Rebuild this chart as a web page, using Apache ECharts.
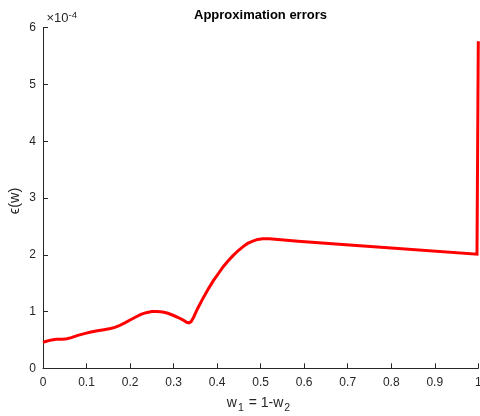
<!DOCTYPE html>
<html>
<head>
<meta charset="utf-8">
<script src="https://cdn.jsdelivr.net/npm/echarts@6/dist/echarts.min.js"></script>
<style>
  html, body { margin: 0; padding: 0; background: #ffffff; }
  #chart { width: 480px; height: 416px; }
</style>
</head>
<body>
<div id="chart"></div>
<script>
// Weight w1 (with w2 = 1 - w1)
const weights = [
  0.000, 0.010, 0.020, 0.030, 0.045, 0.055, 0.065, 0.080, 0.095, 0.110,
  0.125, 0.140, 0.155, 0.165, 0.175, 0.188, 0.200, 0.212, 0.225, 0.237,
  0.250, 0.262, 0.275, 0.287, 0.300, 0.312, 0.322, 0.330, 0.335, 0.340,
  0.346, 0.355, 0.368, 0.380, 0.391, 0.403, 0.414, 0.425, 0.436, 0.448,
  0.459, 0.470, 0.482, 0.493, 0.505, 0.520, 0.586, 0.704, 0.800, 0.997,
  1.000
];
// Approximation error, in units of 1e-4
const errors = [
  0.46, 0.48, 0.50, 0.51, 0.51, 0.52, 0.54, 0.58, 0.61, 0.64,
  0.66, 0.68, 0.70, 0.72, 0.75, 0.80, 0.85, 0.90, 0.95, 0.98,
  1.00, 1.00, 0.99, 0.97, 0.93, 0.89, 0.85, 0.81, 0.80, 0.82,
  0.90, 1.05, 1.24, 1.40, 1.54, 1.67, 1.79, 1.89, 1.98, 2.07,
  2.14, 2.20, 2.24, 2.27, 2.28, 2.28, 2.24, 2.17, 2.12, 2.01,
  5.76
];
const xTicks = { min: 0, max: 1, step: 0.1 };
const yTicks = { min: 0, max: 6, step: 1 };

const axisColor = '#262626';
const font = '"Liberation Sans", Arial, Helvetica, sans-serif';

const chart = echarts.init(document.getElementById('chart'));
chart.setOption({
  backgroundColor: '#ffffff',
  animation: false,
  grid: {
    left: 43, right: 1.7, top: 27.7, bottom: 47.7,
    containLabel: false, outerBoundsMode: 'none'
  },
  xAxis: {
    type: 'value',
    min: xTicks.min, max: xTicks.max, interval: xTicks.step,
    axisLine: { onZero: false, lineStyle: { color: axisColor, width: 1 } },
    axisTick: { inside: true, length: 5, lineStyle: { color: axisColor } },
    axisLabel: { color: axisColor, fontFamily: font, fontSize: 12, margin: 8, hideOverlap: false },
    splitLine: { show: false }
  },
  yAxis: {
    type: 'value',
    min: yTicks.min, max: yTicks.max, interval: yTicks.step,
    axisLine: { show: true, onZero: false, lineStyle: { color: axisColor, width: 1 } },
    axisTick: { show: true, inside: true, length: 5, lineStyle: { color: axisColor } },
    axisLabel: { color: axisColor, fontFamily: font, fontSize: 12, margin: 7 },
    splitLine: { show: false }
  },
  graphic: [
    {
      type: 'text', x: 260.5, y: 15.5,
      style: {
        text: 'Approximation errors', fill: '#000000',
        font: 'bold 13px ' + font, align: 'center', verticalAlign: 'middle'
      }
    },
    {
      type: 'text', x: 46.5, y: 10.8,
      style: {
        text: '{a|×10}{b|-4}', fill: axisColor, align: 'left', verticalAlign: 'top',
        rich: {
          a: { fontFamily: font, fontSize: 13, lineHeight: 13, padding: [3, 0, 0, 0], fill: axisColor },
          b: { fontFamily: font, fontSize: 9.5, lineHeight: 9.5, verticalAlign: 'top', fill: axisColor }
        }
      }
    },
    {
      type: 'text', x: 14.5, y: 201, rotation: Math.PI / 2,
      style: {
        text: 'ϵ(w)', fill: axisColor, font: '14.5px ' + font,
        align: 'center', verticalAlign: 'middle'
      }
    },
    {
      type: 'text', x: 259, y: 396.5,
      style: {
        text: '{n|w}{s|1}{n| = 1-w}{s|2}', fill: axisColor, align: 'center', verticalAlign: 'top',
        rich: {
          n: { fontFamily: font, fontSize: 14, lineHeight: 14, verticalAlign: 'top', fill: axisColor },
          s: { fontFamily: font, fontSize: 10.5, lineHeight: 10.5, padding: [10, 1, 0, 1], fill: axisColor }
        }
      }
    }
  ],
  series: [{
    type: 'line',
    data: weights.map((w, i) => [w, errors[i]]),
    showSymbol: false,
    clip: false,
    lineStyle: { color: '#ff0000', width: 3, join: 'miter' },
    itemStyle: { color: '#ff0000' }
  }]
});
</script>
</body>
</html>
